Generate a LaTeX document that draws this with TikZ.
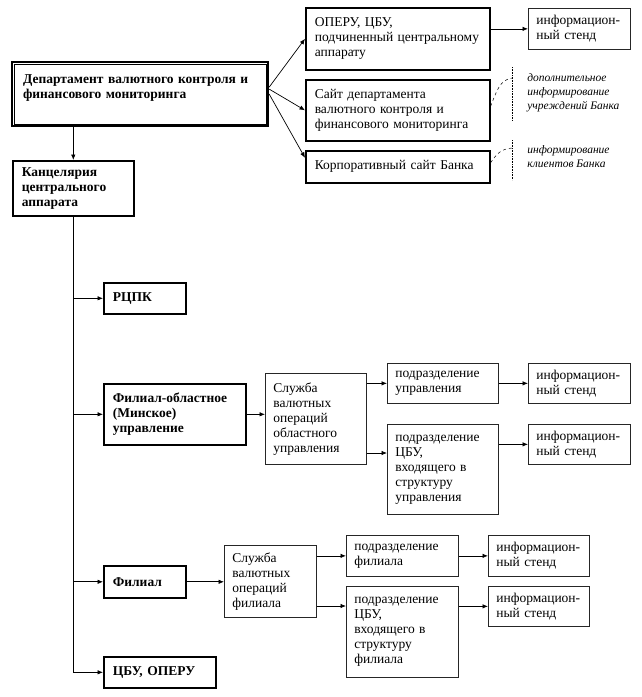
\documentclass[tikz,border=0pt]{standalone}
\usepackage{fontspec}
\setmainfont{Liberation Serif}
\usepackage{tikz}
\usetikzlibrary{arrows.meta, positioning}

\tikzset{
  txt/.style={font=\fontsize{13.5}{15}\selectfont},
  thickbox/.style={txt, draw, line width=1.6pt, anchor=north west, align=left, inner xsep=9pt, inner ysep=0pt},
  thinbox/.style={txt, draw=black!85, line width=0.7pt, anchor=north west, align=left, inner xsep=8pt, inner ysep=0pt},
  bold/.style={font=\fontsize{13.5}{15}\selectfont\bfseries},
  note/.style={font=\fontsize{11.5}{14}\selectfont\itshape, anchor=north west, align=left, inner sep=0pt},
}

\begin{document}
\begin{tikzpicture}[x=1pt,y=-1pt,>={Latex[length=5.5pt,width=4.5pt]},line width=0.7pt]
\useasboundingbox (0,0) rectangle (642,697);

\node[thickbox, bold, line width=2.2pt, inner xsep=11pt, text width=234pt, minimum height=64pt] (dep)  at (11,61)   {Департамент валютного контроля и\\финансового мониторинга\\\mbox{}};
\draw[line width=0.6pt] ([shift={(3pt,-3pt)}]dep.north west) rectangle ([shift={(-3pt,3pt)}]dep.south east);
\node[thickbox, bold, text width=103pt, minimum height=55pt] (kanc) at (12,160)  {Канцелярия\\центрального\\аппарата};

\node[thickbox, text width=166pt, minimum height=62pt]       (operu) at (305,7)   {ОПЕРУ, ЦБУ,\\подчиненный центральному\\аппарату};
\node[thinbox,  text width=86pt,  minimum height=41pt]       (info0) at (528,8)   {информацион-\\ный стенд};
\node[thickbox, text width=166pt, minimum height=61pt]       (site)  at (305,79)  {Сайт департамента\\валютного контроля и\\финансового мониторинга};
\node[thickbox, text width=166pt, minimum height=32pt]       (korp)  at (305,150) {Корпоративный сайт Банка};
\node[note]                                                  (note1) at (527,73)  {дополнительное\\информирование\\учреждений  Банка};
\node[note]                                                  (note2) at (527,145) {информирование\\клиентов Банка};
\coordinate (n1)  at (512,78);
\coordinate (n2)  at (512,148);

\node[thickbox, bold, text width=64pt,  minimum height=31pt] (rcpk)  at (103,282) {РЦПК};
\node[thickbox, bold, text width=124pt, minimum height=61pt] (obl)   at (103,383) {Филиал-областное\\(Минское)\\управление};
\node[thinbox,  text width=85pt,  minimum height=91pt]       (sl1)   at (265,373) {Служба\\валютных\\операций\\областного\\управления};
\node[thinbox,  text width=95pt,  minimum height=40pt]       (podr1) at (387,363) {подразделение\\управления};
\node[thinbox,  text width=86pt,  minimum height=40pt]       (info1) at (528,363) {информацион-\\ный стенд};
\node[thinbox,  text width=95pt,  minimum height=90pt]       (podr2) at (387,424) {подразделение\\ЦБУ,\\входящего в\\структуру\\управления};
\node[thinbox,  text width=86pt,  minimum height=40pt]       (info2) at (528,424) {информацион-\\ный стенд};

\node[thickbox, bold, text width=64pt,  minimum height=32pt] (fil)   at (103,565) {Филиал};
\node[thinbox,  text width=76pt,  minimum height=72pt]       (sl2)   at (224,545) {Служба\\валютных\\операций\\филиала};
\node[thinbox,  text width=96pt,  minimum height=41pt]       (podr3) at (346,535) {подразделение\\филиала};
\node[thinbox,  text width=85pt,  minimum height=41pt]       (info3) at (488,535) {информацион-\\ный стенд};
\node[thinbox,  text width=96pt,  minimum height=91pt]       (podr4) at (346,586) {подразделение\\ЦБУ,\\входящего в\\структуру\\филиала};
\node[thinbox,  text width=85pt,  minimum height=40pt]       (info4) at (488,586) {информацион-\\ный стенд};
\node[thickbox, bold, text width=94pt,  minimum height=31pt] (cbu)   at (103,656) {ЦБУ, ОПЕРУ};

\coordinate (p2in) at ([yshift=-29pt]podr2.north west);
\coordinate (p4in) at ([yshift=-20pt]podr4.north west);

% top part
\path[->] (kanc.north |- dep.south)     edge (kanc.north);
\path[->] ([yshift=7pt]dep.east)       edge (operu.west);
\path[->] ([yshift=5pt]dep.east)       edge (site.west);
\path[->] (dep.east)                   edge ([yshift=9pt]korp.west);
\path[->] (operu.east |- info0.west)   edge (info0.west);
\draw[dashed, line width=0.5pt] ([yshift=4pt]site.east) .. controls (497,90) and (500,80) .. (n1);
\draw[dashed, line width=0.5pt] ([yshift=4pt]korp.east) .. controls (496,155) and (500,149) .. (n2);
\draw[densely dotted, line width=0.6pt] (512,67) -- (512,120);
\draw[densely dotted, line width=0.6pt] (512,140) -- (512,180);

% trunk
\draw[->] (kanc.south) |- (cbu.west);
\path[->] (kanc.south |- rcpk.west)    edge (rcpk.west);
\path[->] (kanc.south |- obl.west)     edge (obl.west);
\path[->] (kanc.south |- fil.west)     edge (fil.west);

% regional branch
\path[->] (obl.east)                   edge (obl.east -| sl1.west);
\path[->] (sl1.east |- podr1.west)     edge (podr1.west);
\path[->] (sl1.east |- p2in)           edge (p2in);
\path[->] (podr1.east)                 edge (info1.west);
\path[->] (podr2.east |- info2.west)   edge (info2.west);

% branch office
\path[->] (fil.east)                   edge (fil.east -| sl2.west);
\path[->] (sl2.east |- podr3.west)     edge (podr3.west);
\path[->] (sl2.east |- p4in)           edge (p4in);
\path[->] (podr3.east)                 edge (info3.west);
\path[->] (podr4.east |- info4.west)   edge (info4.west);
\end{tikzpicture}
\end{document}
